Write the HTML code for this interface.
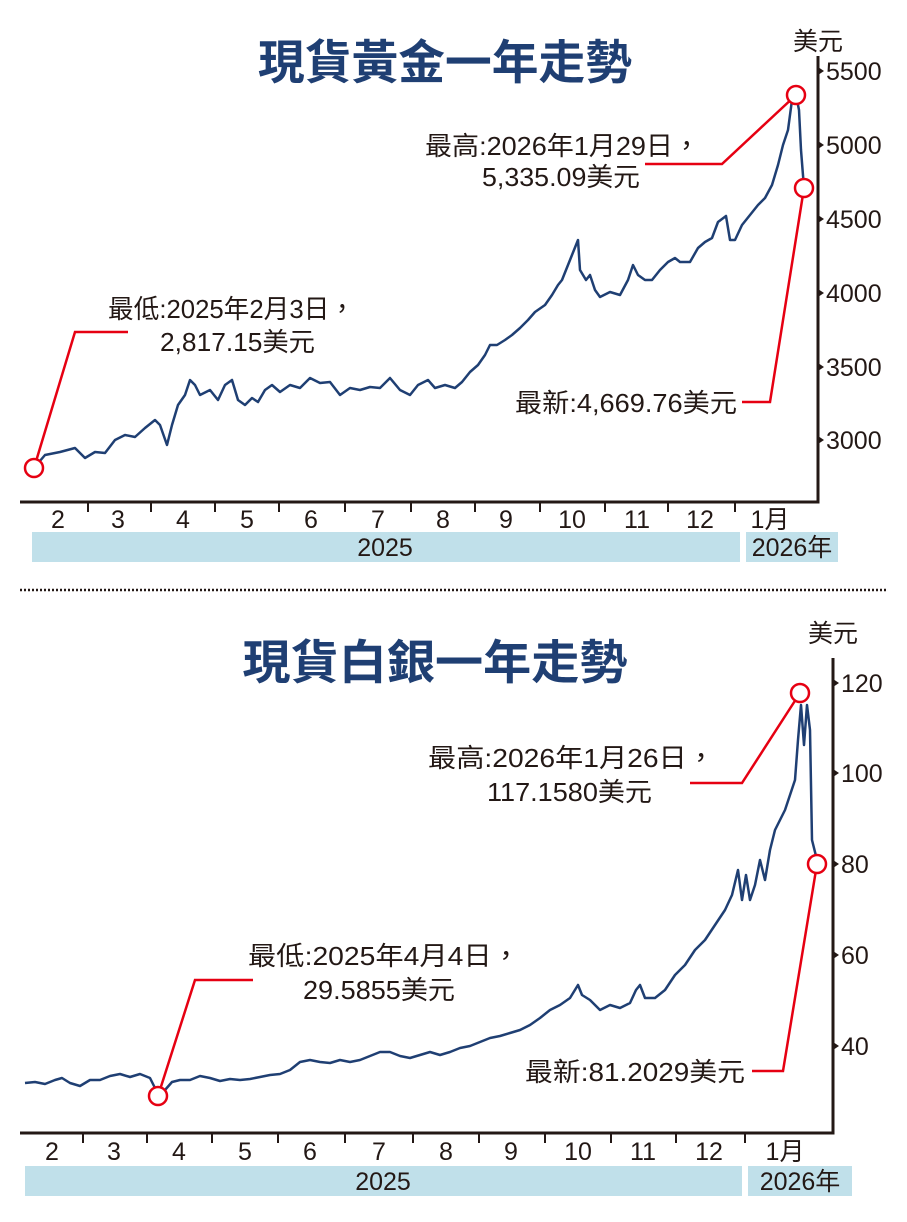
<!DOCTYPE html>
<html><head><meta charset="utf-8"><style>
body{margin:0;background:#fff}
svg{display:block}
text{font-family:"Liberation Sans","Noto Sans CJK TC",sans-serif;fill:#231815}
.t{font-weight:bold;fill:#1f3f73;font-size:47px}
.a{font-size:26px}
.m{font-size:25px}
</style></head><body>
<svg width="907" height="1222" viewBox="0 0 907 1222">
<!-- GOLD -->
<text class="t" x="445" y="79" text-anchor="middle" textLength="374" lengthAdjust="spacingAndGlyphs">現貨黃金一年走勢</text>
<text class="m" x="818" y="50" text-anchor="middle">美元</text>
<path d="M818 56V502H20" fill="none" stroke="#231815" stroke-width="3"/>
<g stroke="#231815" stroke-width="2">
<path d="M88 502v10M151 502v10M215 502v10M279 502v10M345 502v10M411 502v10M475 502v10M540 502v10M605 502v10M668 502v10M735 502v10"/>
</g>
<g fill="#231815"><path d="M818 67l6 4-6 4zM818 141l6 4-6 4zM818 215l6 4-6 4zM818 289l6 4-6 4zM818 363l6 4-6 4zM818 436l6 4-6 4z"/></g>
<g class="m"><text x="826" y="80">5500</text><text x="826" y="154">5000</text><text x="826" y="228">4500</text><text x="826" y="302">4000</text><text x="826" y="376">3500</text><text x="826" y="449">3000</text></g>
<g class="m" text-anchor="middle"><text x="58" y="528">2</text><text x="118" y="528">3</text><text x="183" y="528">4</text><text x="247" y="528">5</text><text x="311" y="528">6</text><text x="378" y="528">7</text><text x="443" y="528">8</text><text x="506" y="528">9</text><text x="572" y="528">10</text><text x="637" y="528">11</text><text x="700" y="528">12</text><text x="770" y="528">1月</text></g>
<rect x="32" y="532" width="708" height="30" fill="#c0e0ea"/><rect x="746" y="532" width="92" height="30" fill="#c0e0ea"/>
<text class="m" x="385" y="556" text-anchor="middle">2025</text><text class="m" x="792" y="556" text-anchor="middle">2026年</text>
<polyline fill="none" stroke="#1f3f73" stroke-width="2.5" stroke-linejoin="round" points="34,468 45,455 60,452 75,448 85,458 95,452 105,453 115,440 125,435 135,437 145,428 155,420 160,425 167,445 172,425 178,405 185,395 190,380 195,385 200,395 210,390 218,400 225,385 232,380 238,400 245,405 252,398 258,402 265,390 272,385 280,392 290,385 300,388 310,378 320,383 330,382 340,395 350,388 360,390 370,387 380,388 390,378 400,390 410,395 418,385 428,380 435,388 445,385 455,388 462,382 470,372 478,365 485,355 490,345 497,345 505,340 512,335 520,328 528,320 535,312 545,305 552,295 558,285 562,280 568,265 572,255 576,245 578,240 580,270 586,280 590,275 595,290 600,297 610,292 620,295 628,280 633,265 638,275 645,280 652,280 660,270 668,262 675,258 680,262 690,262 698,248 705,242 712,238 718,222 726,216 730,240 735,240 742,225 750,215 758,205 765,198 772,185 778,165 783,145 788,130 792,100 796,95 799,110 801,150 804,188"/>
<g fill="none" stroke="#e60012" stroke-width="2.5">
<path d="M34 468L75 332H128M796 95L722 164H645M804 188L770 402H742"/>
<circle cx="34" cy="468" r="9" fill="#fff"/><circle cx="796" cy="95" r="9" fill="#fff"/><circle cx="804" cy="188" r="9" fill="#fff"/>
</g>
<g class="a" lengthAdjust="spacingAndGlyphs">
<text x="108" y="318" textLength="247" lengthAdjust="spacingAndGlyphs">最低:2025年2月3日，</text>
<text x="160" y="351" textLength="155" lengthAdjust="spacingAndGlyphs">2,817.15美元</text>
<text x="425" y="155" textLength="275" lengthAdjust="spacingAndGlyphs">最高:2026年1月29日，</text>
<text x="482" y="186" textLength="158" lengthAdjust="spacingAndGlyphs">5,335.09美元</text>
<text x="515" y="412" textLength="222" lengthAdjust="spacingAndGlyphs">最新:4,669.76美元</text>
</g>
<line x1="20" y1="590" x2="886" y2="590" stroke="#231815" stroke-width="2.5" stroke-dasharray="2 2"/>
<!-- SILVER -->
<text class="t" x="435" y="679" text-anchor="middle" textLength="385" lengthAdjust="spacingAndGlyphs">現貨白銀一年走勢</text>
<text class="m" x="833" y="642" text-anchor="middle">美元</text>
<path d="M833 658V1133H20" fill="none" stroke="#231815" stroke-width="3"/>
<g stroke="#231815" stroke-width="2"><path d="M83 1133v10M147 1133v10M212 1133v10M278 1133v10M345 1133v10M413 1133v10M479 1133v10M545 1133v10M611 1133v10M676 1133v10M745 1133v10"/></g>
<g fill="#231815"><path d="M833 679l6 4-6 4zM833 769l6 4-6 4zM833 860l6 4-6 4zM833 951l6 4-6 4zM833 1042l6 4-6 4z"/></g>
<g class="m"><text x="841" y="692">120</text><text x="841" y="782">100</text><text x="841" y="873">80</text><text x="841" y="964">60</text><text x="841" y="1055">40</text></g>
<g class="m" text-anchor="middle"><text x="52" y="1160">2</text><text x="114" y="1160">3</text><text x="179" y="1160">4</text><text x="245" y="1160">5</text><text x="310" y="1160">6</text><text x="379" y="1160">7</text><text x="446" y="1160">8</text><text x="511" y="1160">9</text><text x="578" y="1160">10</text><text x="643" y="1160">11</text><text x="709" y="1160">12</text><text x="785" y="1160">1月</text></g>
<rect x="25" y="1166" width="717" height="30" fill="#c0e0ea"/><rect x="748" y="1166" width="104" height="30" fill="#c0e0ea"/>
<text class="m" x="383" y="1190" text-anchor="middle">2025</text><text class="m" x="800" y="1190" text-anchor="middle">2026年</text>
<polyline fill="none" stroke="#1f3f73" stroke-width="2.5" stroke-linejoin="round" points="25,1083 35,1082 45,1084 55,1080 62,1078 70,1083 80,1086 90,1080 100,1080 110,1076 120,1074 130,1077 140,1074 150,1078 158,1094 165,1090 172,1082 180,1080 190,1080 200,1076 210,1078 220,1081 230,1079 240,1080 250,1079 260,1077 270,1075 280,1074 290,1070 300,1062 310,1060 320,1062 330,1063 340,1060 350,1062 360,1060 370,1056 380,1052 390,1052 400,1056 410,1058 420,1055 430,1052 440,1055 450,1052 460,1048 470,1046 480,1042 490,1038 500,1036 510,1033 520,1030 530,1025 540,1018 550,1010 560,1005 570,998 578,985 582,995 590,1000 600,1010 610,1005 620,1008 630,1003 636,990 640,985 645,998 655,998 665,990 675,975 685,965 695,950 705,940 715,925 725,910 732,895 738,870 742,900 746,875 750,900 755,885 760,860 765,880 770,850 775,830 780,820 785,810 790,795 795,780 798,740 801,705 804,745 807,705 810,730 812,840 817,860"/>
<g fill="none" stroke="#e60012" stroke-width="2.5">
<path d="M158 1096L195 980H253M800 693L742 783H690M817 864L783 1071H752"/>
<circle cx="158" cy="1096" r="9" fill="#fff"/><circle cx="800" cy="693" r="9" fill="#fff"/><circle cx="817" cy="864" r="9" fill="#fff"/>
</g>
<g class="a">
<text x="248" y="965" textLength="272" lengthAdjust="spacingAndGlyphs">最低:2025年4月4日，</text>
<text x="303" y="999" textLength="152" lengthAdjust="spacingAndGlyphs">29.5855美元</text>
<text x="428" y="767" textLength="287" lengthAdjust="spacingAndGlyphs">最高:2026年1月26日，</text>
<text x="487" y="801" textLength="165" lengthAdjust="spacingAndGlyphs">117.1580美元</text>
<text x="525" y="1081" textLength="220" lengthAdjust="spacingAndGlyphs">最新:81.2029美元</text>
</g>
</svg>
</body></html>
